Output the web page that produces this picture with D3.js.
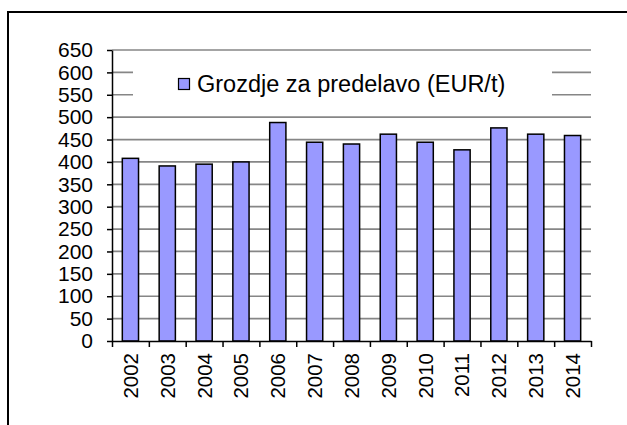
<!DOCTYPE html>
<html>
<head>
<meta charset="utf-8">
<script src="https://cdn.jsdelivr.net/npm/d3@7"></script>
<style>
  body { margin: 0; background: #fff; }
  svg { display: block; font-family: "Liberation Sans", Arial, sans-serif; }
</style>
</head>
<body>
<svg id="chart" width="627" height="425"></svg>
<script>
var years = ['2002','2003','2004','2005','2006','2007','2008','2009','2010','2011','2012','2013','2014'];
var prices = [408, 391, 395, 400, 488, 444, 440, 462, 444, 427, 476, 462, 459];
var yTicks = [0,50,100,150,200,250,300,350,400,450,500,550,600,650];
var seriesName = 'Grozdje za predelavo (EUR/t)';

var svg = d3.select('#chart');
var plot = { left: 112, right: 591, top: 50, bottom: 341 };

// outer frame (only top and left edge show in the picture)
svg.append('rect')
  .attr('x', 8).attr('y', 12)
  .attr('width', 640).attr('height', 440)
  .attr('fill', 'none')
  .attr('stroke', '#000')
  .attr('stroke-width', 2);

var y = d3.scaleLinear().domain([0, 650]).range([plot.bottom, plot.top]);
var x = d3.scaleBand().domain(years).range([plot.left, plot.right])
  .paddingInner(0.56).paddingOuter(0.28);
// boundaries between categories, for the x ticks
var xEdge = d3.scaleLinear().domain([0, years.length]).range([plot.left, plot.right]);

// gridlines
svg.append('g')
  .selectAll('line')
  .data(yTicks.filter(d => d > 0))
  .enter().append('line')
  .attr('x1', plot.left).attr('x2', plot.right)
  .attr('y1', d => y(d)).attr('y2', d => y(d))
  .attr('stroke', '#868686')
  .attr('stroke-width', 1.7);

// bars
svg.append('g')
  .selectAll('rect')
  .data(years)
  .enter().append('rect')
  .attr('x', d => x(d))
  .attr('y', (d, i) => y(prices[i]))
  .attr('width', x.bandwidth())
  .attr('height', (d, i) => y(0) - y(prices[i]))
  .attr('fill', '#9999ff')
  .attr('stroke', '#000')
  .attr('stroke-width', 1.5);

// y axis
var yAxis = svg.append('g')
  .attr('transform', `translate(${plot.left},0)`)
  .call(d3.axisLeft(y).tickValues(yTicks).tickSize(5).tickPadding(14).tickSizeOuter(0));
yAxis.select('.domain').attr('stroke', '#000').attr('stroke-width', 1.5);
yAxis.selectAll('.tick line').attr('stroke', '#000').attr('stroke-width', 1.5);
yAxis.selectAll('.tick text')
  .style('font-size', '21px')
  .attr('fill', '#000');

// x axis
var xAxis = svg.append('g')
  .attr('transform', `translate(0,${plot.bottom})`)
  .call(d3.axisBottom(xEdge).ticks(years.length).tickSize(6).tickSizeOuter(0).tickFormat(''));
xAxis.select('.domain').attr('stroke', '#000').attr('stroke-width', 1.5);
xAxis.selectAll('.tick line').attr('stroke', '#000').attr('stroke-width', 1.5);

svg.append('g')
  .selectAll('text')
  .data(years)
  .enter().append('text')
  .attr('transform', d => `translate(${x(d) + x.bandwidth() / 2},353) rotate(-90)`)
  .attr('dy', '0.36em')
  .attr('text-anchor', 'end')
  .style('font-size', '20.5px')
  .text(d => d);

// legend
var legend = svg.append('g');
legend.append('rect')
  .attr('x', 133).attr('y', 58)
  .attr('width', 419).attr('height', 50)
  .attr('fill', '#fff');
legend.append('rect')
  .attr('x', 178.5).attr('y', 78.5)
  .attr('width', 11).attr('height', 11)
  .attr('fill', '#9999ff')
  .attr('stroke', '#000')
  .attr('stroke-width', 1.2);
legend.append('text')
  .attr('x', 197).attr('y', 92)
  .style('font-size', '23.5px')
  .text(seriesName);
</script>
</body>
</html>
